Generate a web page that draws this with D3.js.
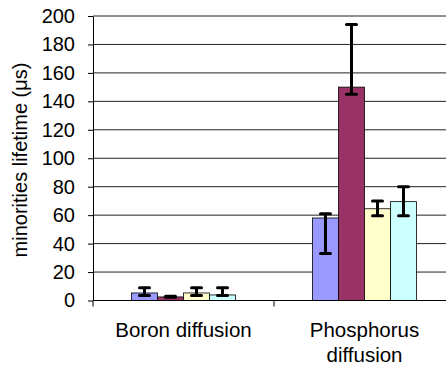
<!DOCTYPE html>
<html>
<head>
<meta charset="utf-8">
<script src="https://cdn.jsdelivr.net/npm/d3@7"></script>
<style>
  body { margin: 0; background: #fff; }
  text { font-family: Arial, "Liberation Sans", sans-serif; fill: #000; }
</style>
</head>
<body>
<script>
"use strict";

// categories and their (wrapped) labels
var categories = ["Boron diffusion", "Phosphorus diffusion"];
var categoryLines = [["Boron diffusion"], ["Phosphorus", "diffusion"]];
var series = ["s1", "s2", "s3", "s4"];
var colors = ["#9999FF", "#993366", "#FFFFCC", "#CCFFFF"];

// bar values per category (one entry per series)
var boronValues = [5.3, 2.5, 5.3, 3.9];
var phosphorusValues = [58, 150, 64.5, 69.5];
// error bar ends (low / high)
var boronLow = [3.5, 2.2, 3.5, 3.5];
var boronHigh = [9, 2.9, 9, 9];
var phosphorusLow = [33, 145, 59.5, 59.5];
var phosphorusHigh = [61, 194, 70, 80];

var yTicks = [0, 20, 40, 60, 80, 100, 120, 140, 160, 180, 200];

var width = 446, height = 367;
var margin = {left: 93, top: 16, bottom: 300.5, right: 455};

var svg = d3.select("body").append("svg")
    .attr("width", width)
    .attr("height", height);

var x0 = d3.scaleBand().domain(categories).range([margin.left, margin.right]);
var x1 = d3.scaleBand().domain(series).range([0, x0.bandwidth()]).paddingOuter(1.48);
var y = d3.scaleLinear().domain([0, 200]).range([margin.bottom, margin.top]);

// gridlines
svg.append("g").selectAll("line")
    .data(yTicks.slice(1))
    .enter().append("line")
    .attr("x1", margin.left).attr("x2", margin.right)
    .attr("y1", d => y(d)).attr("y2", d => y(d))
    .attr("stroke", "#222").attr("stroke-width", 1);

// bars
var rows = [
  {cat: categories[0], values: boronValues, low: boronLow, high: boronHigh},
  {cat: categories[1], values: phosphorusValues, low: phosphorusLow, high: phosphorusHigh}
];

var groups = svg.append("g").selectAll("g")
    .data(rows)
    .enter().append("g")
    .attr("transform", d => "translate(" + x0(d.cat) + ",0)");

groups.selectAll("rect")
    .data(d => d.values.map((v, i) => ({s: series[i], v: v, c: colors[i]})))
    .enter().append("rect")
    .attr("x", d => x1(d.s))
    .attr("y", d => y(d.v))
    .attr("width", x1.bandwidth())
    .attr("height", d => y(0) - y(d.v))
    .attr("fill", d => d.c)
    .attr("stroke", "#000")
    .attr("stroke-width", 0.8);

// error bars
var errs = groups.selectAll("g.err")
    .data(d => d.values.map((v, i) => ({s: series[i], lo: d.low[i], hi: d.high[i]})))
    .enter().append("g").attr("class", "err")
    .attr("transform", d => "translate(" + (x1(d.s) + x1.bandwidth() / 2) + ",0)");
errs.append("line")
    .attr("x1", 0).attr("x2", 0)
    .attr("y1", d => y(d.lo)).attr("y2", d => y(d.hi))
    .attr("stroke", "#000").attr("stroke-width", 3);
errs.selectAll("line.cap")
    .data(d => [d.lo, d.hi])
    .enter().append("line").attr("class", "cap")
    .attr("x1", -5).attr("x2", 5)
    .attr("y1", d => y(d)).attr("y2", d => y(d))
    .attr("stroke", "#000").attr("stroke-width", 3)
    .attr("stroke-linecap", "round");

// y axis
var yAxis = svg.append("g")
    .attr("transform", "translate(" + margin.left + ",0)")
    .call(d3.axisLeft(y).tickValues(yTicks).tickSizeInner(5).tickSizeOuter(0).tickPadding(13));
yAxis.select(".domain").attr("stroke", "#000");
yAxis.selectAll(".tick line").attr("stroke", "#000");
yAxis.selectAll("text").style("font-size", "20px");

// x axis
var xAxis = svg.append("g")
    .attr("transform", "translate(0," + margin.bottom + ")");
xAxis.append("line")
    .attr("x1", margin.left).attr("x2", margin.right)
    .attr("stroke", "#000");
xAxis.selectAll("line.tick")
    .data([margin.left, x0(categories[1]), margin.right])
    .enter().append("line").attr("class", "tick")
    .attr("x1", d => d).attr("x2", d => d)
    .attr("y1", 0).attr("y2", 6)
    .attr("stroke", "#000");

var lab = svg.append("g").selectAll("text")
    .data(categories)
    .enter().append("text")
    .attr("x", d => x0(d) + x0.bandwidth() / 2)
    .attr("y", 337)
    .attr("text-anchor", "middle")
    .style("font-size", "20.5px");
lab.selectAll("tspan")
    .data((d, i) => categoryLines[i])
    .enter().append("tspan")
    .attr("x", function() { return d3.select(this.parentNode).attr("x"); })
    .attr("dy", (d, i) => i === 0 ? 0 : 25)
    .text(d => d);

// y axis title
svg.append("text")
    .attr("transform", "translate(27,160) rotate(-90)")
    .attr("text-anchor", "middle")
    .style("font-size", "20px")
    .text("minorities lifetime (\u03bcs)");
</script>
</body>
</html>
